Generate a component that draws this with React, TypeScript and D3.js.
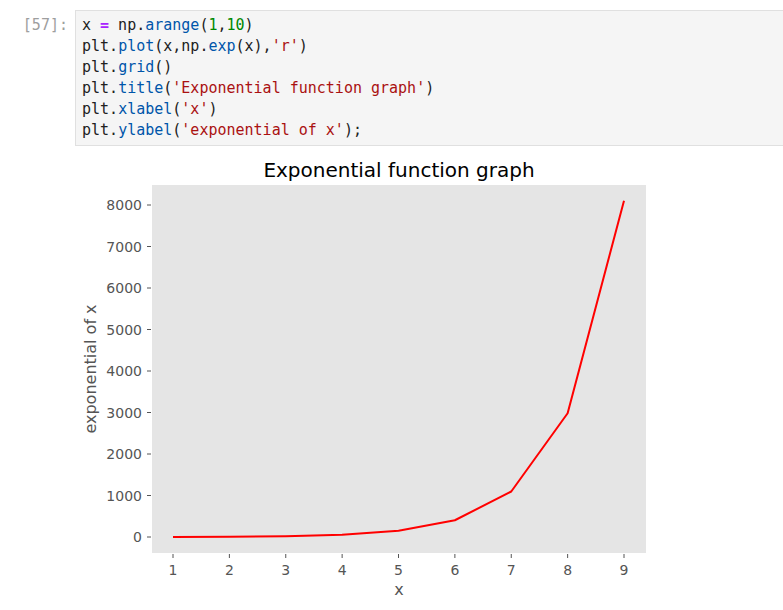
import React from "react";
import * as d3 from "d3";

const xValues = [1, 2, 3, 4, 5, 6, 7, 8, 9];
const yValues = [2.718, 7.389, 20.086, 54.598, 148.413, 403.429, 1096.633, 2980.958, 8103.084];
const xTicks = [1, 2, 3, 4, 5, 6, 7, 8, 9];
const yTicks = [0, 1000, 2000, 3000, 4000, 5000, 6000, 7000, 8000];
const titleText = "Exponential function graph";
const xLabelText = "x";
const yLabelText = "exponential of x";

const C = { var2: "#0055aa", num: "#008800", str: "#aa1111", op: "#aa22ff", txt: "#212121" };
type Tok = [string, string];
const codeLines: Tok[][] = [
  [["x ", C.txt], ["=", C.op], [" np.", C.txt], ["arange", C.var2], ["(", C.txt], ["1", C.num], [",", C.txt], ["10", C.num], [")", C.txt]],
  [["plt.", C.txt], ["plot", C.var2], ["(x,np.", C.txt], ["exp", C.var2], ["(x),", C.txt], ["'r'", C.str], [")", C.txt]],
  [["plt.", C.txt], ["grid", C.var2], ["()", C.txt]],
  [["plt.", C.txt], ["title", C.var2], ["(", C.txt], ["'Exponential function graph'", C.str], [")", C.txt]],
  [["plt.", C.txt], ["xlabel", C.var2], ["(", C.txt], ["'x'", C.str], [")", C.txt]],
  [["plt.", C.txt], ["ylabel", C.var2], ["(", C.txt], ["'exponential of x'", C.str], [");", C.txt]],
];

export default function App() {
  const W = 783, H = 610;
  const plot = { left: 152, right: 646, top: 185, bottom: 553 };
  const x = d3.scaleLinear().domain([1, 9]).range([173, 624]);
  const y = d3.scaleLinear().domain([0, 8000]).range([537, 205]);
  const line = d3.line<number>().x((_, i) => x(xValues[i])).y((d) => y(d));
  const sans = "'DejaVu Sans', sans-serif";
  const mono = "'DejaVu Sans Mono', monospace";
  return (
    <svg width={W} height={H} style={{ position: "absolute", left: 0, top: 0, background: "#fff" }}>
      <text x={68} y={30} fontFamily={mono} fontSize={15} fill="#9e9e9e" textAnchor="end">[57]:</text>
      <rect x={75.5} y={10.5} width={720} height={135} fill="#f5f5f5" stroke="#e0e0e0" />
      {codeLines.map((ln, i) => (
        <text key={i} x={82} y={30 + i * 21} fontFamily={mono} fontSize={15} xmlSpace="preserve" style={{ whiteSpace: "pre" }}>
          {ln.map(([t, c], j) => (
            <tspan key={j} fill={c} fontWeight={c === C.op ? "bold" : "normal"}>{t}</tspan>
          ))}
        </text>
      ))}
      <rect x={plot.left} y={plot.top} width={plot.right - plot.left} height={plot.bottom - plot.top} fill="#e5e5e5" />
      <path d={line(yValues) || ""} fill="none" stroke="#ff0000" strokeWidth={2} strokeLinejoin="round" />
      {xTicks.map((t) => (
        <g key={t}>
          <line x1={x(t)} x2={x(t)} y1={plot.bottom + 1} y2={plot.bottom + 5} stroke="#555" strokeWidth={1} />
          <text x={x(t)} y={575} textAnchor="middle" fontFamily={sans} fontSize={14} fill="#555">{t}</text>
        </g>
      ))}
      {yTicks.map((t) => (
        <g key={t}>
          <line x1={plot.left - 5} x2={plot.left - 1} y1={y(t)} y2={y(t)} stroke="#555" strokeWidth={1} />
          <text x={142} y={y(t) + 5} textAnchor="end" fontFamily={sans} fontSize={14} fill="#555">{t}</text>
        </g>
      ))}
      <text x={(plot.left + plot.right) / 2} y={177} textAnchor="middle" fontFamily={sans} fontSize={20} fill="#000">{titleText}</text>
      <text x={(plot.left + plot.right) / 2} y={595} textAnchor="middle" fontFamily={sans} fontSize={16} fill="#555">{xLabelText}</text>
      <text transform={`translate(96,${(plot.top + plot.bottom) / 2}) rotate(-90)`} textAnchor="middle" fontFamily={sans} fontSize={16} fill="#555">{yLabelText}</text>
    </svg>
  );
}
